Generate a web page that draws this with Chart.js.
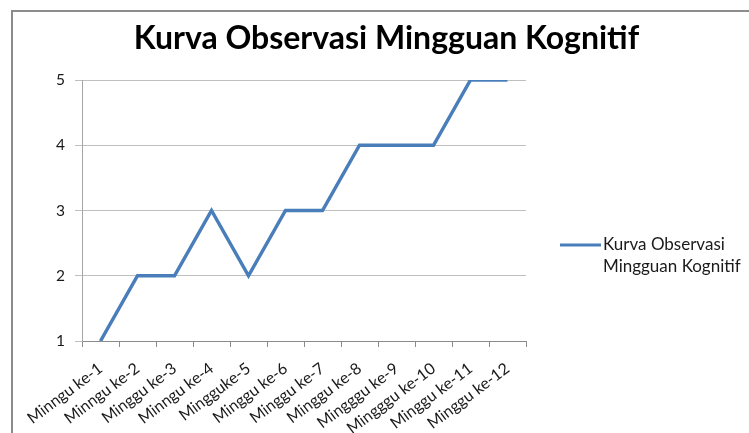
<!DOCTYPE html>
<html>
<head>
<meta charset="utf-8">
<script src="https://cdn.jsdelivr.net/npm/chart.js@4.4.1/dist/chart.umd.min.js"></script>
<style>
html,body{margin:0;padding:0;background:#fff;}
#wrap{width:749px;height:433px;position:relative;}
</style>
</head>
<body>
<div id="wrap"><canvas id="c" width="749" height="433"></canvas></div>
<script>
const categories = ["Minngu ke-1","Minngu ke-2","Minggu ke-3","Minngu ke-4","Mingguke-5","Minggu ke-6","Minggu ke-7","Minggu ke-8","Mingggu ke-9","Mingggu ke-10","Minggu ke-11","Minggu ke-12"];
const seriesName = "Kurva Observasi Mingguan Kognitif";
const legendLines = ["Kurva Observasi", "Mingguan Kognitif"];
const values = [1,2,2,3,2,3,3,4,4,4,5,5];
const yTicks = [1,2,3,4,5];

const FONT = "Lato, 'Open Sans', sans-serif";
const LINE = "#4a7ebb";

const framePlugin = {
  id: 'frame',
  beforeDraw(chart) {
    const ctx = chart.ctx;
    ctx.save();
    ctx.fillStyle = '#fff';
    ctx.fillRect(0, 0, chart.width, chart.height);
    ctx.strokeStyle = '#8c8c8c';
    ctx.lineWidth = 2;
    ctx.strokeRect(12, 11, 900, 600);
    ctx.restore();
  }
};

const legendPlugin = {
  id: 'customLegend',
  afterDraw(chart) {
    const ctx = chart.ctx;
    ctx.save();
    ctx.strokeStyle = LINE;
    ctx.lineWidth = 3;
    ctx.beginPath();
    ctx.moveTo(560, 245);
    ctx.lineTo(601, 245);
    ctx.stroke();
    ctx.fillStyle = '#1a1a1a';
    ctx.font = "17px " + FONT;
    ctx.textBaseline = 'middle';
    ctx.textAlign = 'left';
    ctx.fillText(legendLines[0], 603, 245);
    ctx.fillText(legendLines[1], 603, 267);
    ctx.restore();
  }
};

new Chart(document.getElementById('c'), {
  type: 'line',
  data: {
    labels: categories,
    datasets: [{
      label: seriesName,
      data: values,
      borderColor: LINE,
      backgroundColor: LINE,
      borderWidth: 3.5,
      pointRadius: 0,
      tension: 0,
      fill: false
    }]
  },
  options: {
    responsive: false,
    animation: false,
    layout: { padding: { left: 24, right: 0, top: 0, bottom: 0 } },
    plugins: {
      legend: { display: false },
      tooltip: { enabled: false },
      title: {
        display: true,
        text: seriesName,
        color: '#000',
        font: { family: FONT, size: 32, weight: 'bold', lineHeight: 1.2 },
        padding: { top: 19, bottom: 22.6 }
      }
    },
    scales: {
      x: {
        offset: true,
        grid: { display: true, drawOnChartArea: false, drawTicks: true, offset: true, tickLength: 6, color: '#8c8c8c' },
        border: { display: true, color: '#8c8c8c', width: 1 },
        ticks: {
          autoSkip: false, minRotation: 37, maxRotation: 37, padding: 12,
          color: '#1a1a1a', font: { family: FONT, size: 16 }
        },
        afterFit(scale) { scale.height = 92; }
      },
      y: {
        min: 1, max: 5,
        afterBuildTicks(scale) { scale.ticks = yTicks.map(v => ({ value: v })); },
        grid: { color: '#bfbfbf', tickLength: 7, drawTicks: true },
        border: { display: true, color: '#a6a6a6', width: 1 },
        ticks: { padding: 10, color: '#1a1a1a', font: { family: FONT, size: 15.5 } },
        afterFit(scale) { scale.width = 58; }
      },
      spacer: {
        position: 'right',
        display: true,
        grid: { display: false },
        border: { display: false },
        ticks: { display: false },
        afterFit(scale) { scale.width = 223; }
      }
    }
  },
  plugins: [framePlugin, legendPlugin]
});
</script>
</body>
</html>
